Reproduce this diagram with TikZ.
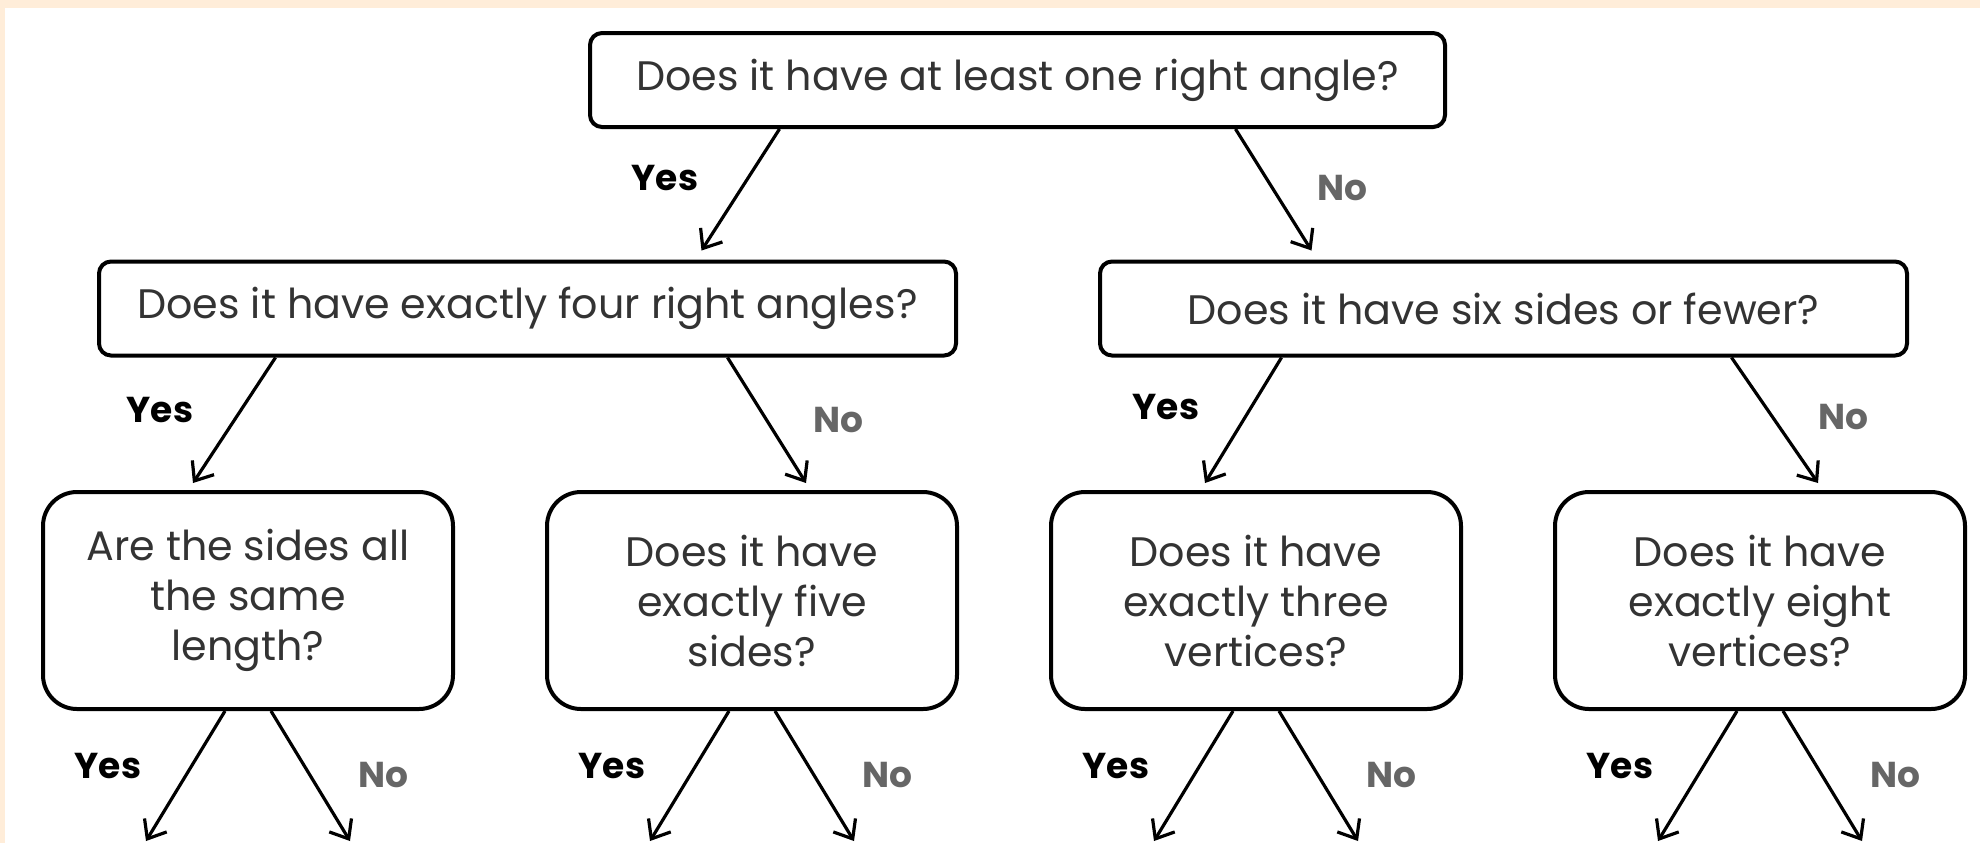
\documentclass[tikz,border=0pt]{standalone}
\usepackage{fontspec}
\setmainfont{Poppins}
\usetikzlibrary{arrows.meta,positioning}
\definecolor{peach}{HTML}{FFEDD9}
\definecolor{nogray}{HTML}{666666}
\tikzset{
  >=Straight Barb,
  every picture/.append style={line width=1.6pt},
}

\begin{document}
\begin{tikzpicture}[
  x=0.5pt, y=-0.5pt,
  node distance=45pt,
  qbox/.style  ={draw, line width=2pt, rounded corners=6pt, align=center,
                 inner sep=0pt, text=black!80, font=\fontsize{20.6}{25}\selectfont},
  qwide/.style ={qbox, minimum height=47pt},
  qtall/.style ={qbox, rounded corners=17pt, minimum width=205pt, minimum height=108.5pt},
  arrow/.style ={-{Straight Barb[length=8pt,width=13pt]}, line width=1.6pt},
  lblyes/.style={font=\fontsize{18}{22}\selectfont\bfseries},
  lblno/.style ={lblyes, text=nogray}
]

% Page background with the peach strip on top and left
\fill[peach] (0,0) rectangle (1980,843);
\fill[white] (5,8) rectangle (1980,843);
\useasboundingbox (0,0) rectangle (1980,843);

% First and second question
\node[qwide, minimum width=427.5pt] (q0) at (1017.5,80) {Does it have at least one right angle?};
\node[qwide, minimum width=428.5pt] (q1) at (527.5,308.5) {Does it have exactly four right angles?};
\node[qwide, minimum width=403.5pt] (q2) at (1503.5,308.5) {Does it have six sides or fewer?};

% Third row of questions
\node[qtall] (q3) at (248,600.5) {Are the sides all\\the same\\length?};
\node[qtall, right=of q3] (q4) {Does it have\\exactly five\\sides?};
\node[qtall, right=of q4] (q5) {Does it have\\exactly three\\vertices?};
\node[qtall, right=of q5] (q6) {Does it have\\exactly eight\\vertices?};

% Arrows between the rows
\draw[arrow] ([xshift=-119pt]q0.south) -- ([xshift=87pt,yshift=4.5pt]q1.north);
\draw[arrow] ([xshift=109pt]q0.south) -- ([xshift=-96pt,yshift=4.5pt]q2.north);
\draw[arrow] ([xshift=-126pt]q1.south) -- ([xshift=-27.5pt,yshift=3.5pt]q3.north);
\draw[arrow] ([xshift=100pt]q1.south) -- ([xshift=27pt,yshift=3.5pt]q4.north);
\draw[arrow] ([xshift=-111pt]q2.south) -- ([xshift=-25.5pt,yshift=3.5pt]q5.north);
\draw[arrow] ([xshift=114pt]q2.south) -- ([xshift=29pt,yshift=3.5pt]q6.north);

% Yes / No labels of the upper arrows
\node[lblyes] (y0) at (665,178) {Yes};
\node[lblno]  (n0) at (1342,188) {No};
\node[lblyes] (y1) at (160,410) {Yes};
\node[lblno]  (n1) at (838,420) {No};
\node[lblyes] (y2) at (1166,407) {Yes};
\node[lblno]  (n2) at (1843,417) {No};

% Open arrows below the third row
\foreach \b in {q3,q4,q5,q6}{
  \coordinate (\b-y) at ([shift={(-51pt,-65pt)}]\b.south);
  \coordinate (\b-n) at ([shift={(51pt,-65pt)}]\b.south);
  \draw[arrow] ([xshift=-11.5pt]\b.south) -- (\b-y);
  \draw[arrow] ([xshift=11.5pt]\b.south) -- (\b-n);
  \node[lblyes] (\b-ly) at ([shift={(-70pt,-27.5pt)}]\b.south) {Yes};
  \node[lblno]  (\b-ln) at ([shift={(67.5pt,-32pt)}]\b.south) {No};
}

\end{tikzpicture}
\end{document}
